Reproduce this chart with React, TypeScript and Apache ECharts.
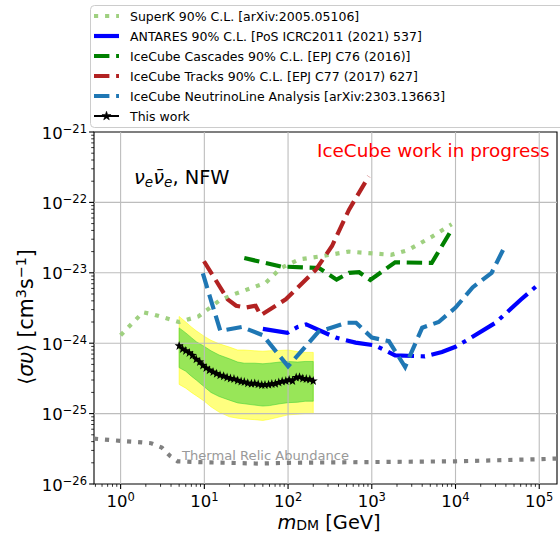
import React, { useEffect, useRef } from 'react';
import * as echarts from 'echarts';

// ---------- data ----------
const superKMass = [1, 1.85, 2.5, 5, 8.5, 15, 22, 54, 82, 136, 250, 530, 1700, 2700, 5100, 9000];
const superKSigma = [1.3e-24, 2.75e-24, 2.55e-24, 2.0e-24, 2.4e-24, 4.0e-24, 4.9e-24, 7.2e-24, 1.17e-23, 1.55e-23, 1.72e-23, 2.0e-23, 1.8e-23, 2.1e-23, 3.2e-23, 4.9e-23];

const antaresMass = [50, 98, 130, 165, 370, 640, 1100, 1900, 4300, 6900, 10000, 14000, 30000, 61000, 97000];
const antaresSigma = [1.6e-24, 1.4e-24, 1.7e-24, 1.85e-24, 1.2e-24, 1.02e-24, 9.3e-25, 6.7e-25, 6.5e-25, 7.5e-25, 8.9e-25, 1.12e-24, 1.95e-24, 4.2e-24, 6.8e-24];

const cascadesMass = [30, 82, 234, 380, 535, 705, 960, 1900, 5200, 9000];
const cascadesSigma = [1.62e-23, 1.23e-23, 1.17e-23, 8.0e-24, 1.0e-23, 1.02e-23, 7.9e-24, 1.41e-23, 1.38e-23, 4.1e-23];

const tracksMass = [9.9, 19, 24, 31, 41, 47, 94, 214, 335, 535, 920];
const tracksSigma = [1.46e-23, 4.2e-24, 3.4e-24, 3.2e-24, 3.4e-24, 2.5e-24, 4.2e-24, 1.1e-23, 2.4e-23, 7.9e-23, 2.34e-22];

const nuLineMass = [9.6, 15.5, 28, 50, 100, 230, 500, 650, 1000, 1600, 2500, 4000, 6300, 10000, 16000, 27000, 39000];
const nuLineSigma = [9.8e-24, 1.5e-24, 1.7e-24, 1.3e-24, 4.7e-25, 1.45e-24, 1.95e-24, 1.95e-24, 1.2e-24, 1.07e-24, 4.6e-25, 1.66e-24, 2.0e-24, 3.2e-24, 6.2e-24, 1.0e-23, 2.4e-23];

const thisWorkMass = [5, 5.5, 6, 6.6, 7.2, 8, 8.8, 9.6, 10.5, 11.5, 12.7, 14, 15.4, 17, 18.7, 20.5, 22.6, 25, 27.5, 30, 33, 36.5, 40, 44, 48.5, 53, 58.5, 64, 70.5, 77.5, 85, 94, 103, 113, 125, 137, 150, 165, 182, 200];
const thisWorkSigma = [9.3e-25, 8.4e-25, 7.9e-25, 7.4e-25, 6.8e-25, 6.0e-25, 5.5e-25, 4.9e-25, 4.5e-25, 4.2e-25, 3.95e-25, 3.75e-25, 3.55e-25, 3.45e-25, 3.3e-25, 3.2e-25, 3.15e-25, 3.0e-25, 2.9e-25, 2.85e-25, 2.75e-25, 2.7e-25, 2.72e-25, 2.65e-25, 2.58e-25, 2.6e-25, 2.62e-25, 2.68e-25, 2.7e-25, 2.8e-25, 2.9e-25, 2.95e-25, 3.05e-25, 2.95e-25, 3.3e-25, 3.35e-25, 3.2e-25, 3.15e-25, 3.1e-25, 2.95e-25];

const bandMass = [5, 6, 7, 8, 10, 12, 15, 20, 25, 30, 40, 50, 60, 80, 100, 130, 160, 200];
const band2Hi = [2.4e-24, 2.0e-24, 1.7e-24, 1.5e-24, 1.25e-24, 1.1e-24, 9.8e-25, 8.8e-25, 8.0e-25, 8.0e-25, 7.8e-25, 7.7e-25, 7.8e-25, 7.9e-25, 8.0e-25, 7.6e-25, 7.4e-25, 7.4e-25];
const band1Hi = [1.65e-24, 1.4e-24, 1.2e-24, 1.05e-24, 9.0e-25, 7.8e-25, 6.8e-25, 6.0e-25, 5.4e-25, 5.2e-25, 5.2e-25, 5.1e-25, 5.2e-25, 5.4e-25, 5.5e-25, 5.4e-25, 5.5e-25, 5.5e-25];
const band1Lo = [4.5e-25, 4.0e-25, 3.4e-25, 3.0e-25, 2.4e-25, 2.0e-25, 1.75e-25, 1.55e-25, 1.42e-25, 1.38e-25, 1.32e-25, 1.28e-25, 1.3e-25, 1.38e-25, 1.43e-25, 1.45e-25, 1.5e-25, 1.5e-25];
const band2Lo = [2.6e-25, 2.3e-25, 2.0e-25, 1.8e-25, 1.5e-25, 1.25e-25, 1.05e-25, 9.0e-26, 8.6e-26, 8.4e-26, 8.2e-26, 8.0e-26, 8.3e-26, 9.0e-26, 9.6e-26, 9.8e-26, 1.0e-25, 1.0e-25];

const thermalMass = [0.48, 1, 1.8, 2.3, 3.1, 3.9, 4.8, 9, 45, 100, 1000, 10000, 100000, 163000];
const thermalSigma = [4.4e-26, 4.1e-26, 3.9e-26, 3.8e-26, 3.3e-26, 2.5e-26, 2.1e-26, 2.04e-26, 1.95e-26, 2.0e-26, 2.05e-26, 2.1e-26, 2.25e-26, 2.3e-26];

const legendLabels = [
  'SuperK 90% C.L. [arXiv:2005.05106]',
  'ANTARES 90% C.L. [PoS ICRC2011 (2021) 537]',
  'IceCube Cascades 90% C.L. [EPJ C76 (2016)]',
  'IceCube Tracks 90% C.L. [EPJ C77 (2017) 627]',
  'IceCube NeutrinoLine Analysis [arXiv:2303.13663]',
  'This work',
];

const xMajorTicks = [1, 10, 100, 1000, 10000, 100000];
const yMajorTicks = [1e-26, 1e-25, 1e-24, 1e-23, 1e-22, 1e-21];
const mantissas = [2, 3, 4, 5, 6, 7, 8, 9];
const xDecades = [0.1, 1, 10, 100, 1000, 10000];
const yDecades = [1e-26, 1e-25, 1e-24, 1e-23, 1e-22];

// ---------- styling ----------
const L = (v: number) => Math.log10(v);
const X_MIN = 0.481, X_MAX = 1.63e5, Y_MIN = 1e-26, Y_MAX = 1e-21;
const FONT = 'DejaVu Sans';
const LW = 4.17;
const DOT = [4.17, 6.9];
const DASH = [15.4, 6.7];
const DASHDOT = [26.7, 6.7, 4.17, 6.7];

const C_SUPERK = '#9fd080';
const C_ANTARES = '#0000ff';
const C_CASC = '#008000';
const C_TRACKS = '#b22222';
const C_NULINE = '#1f77b4';
const C_THERMAL = '#808080';

const STAR = 'path://M0,-10L2.35,-3.24L9.51,-3.09L3.8,1.24L5.88,8.09L0,4L-5.88,8.09L-3.8,1.24L-9.51,-3.09L-2.35,-3.24Z';

const minorX = xDecades.flatMap((d) => mantissas.map((m) => m * d)).filter((v) => v > X_MIN && v < X_MAX);
const minorY = yDecades.flatMap((d) => mantissas.map((m) => m * d));

function fmtLog(v: number) {
  const r = Math.round(v);
  if (Math.abs(v - r) > 1e-6) return '';
  return `{b|10}{s|${String(r).replace('-', '\u2212')}}`;
}

const tickRich = {
  b: { fontSize: 16.5, fontFamily: FONT, color: '#000', lineHeight: 19, verticalAlign: 'bottom' },
  s: { fontSize: 11.5, fontFamily: FONT, color: '#000', lineHeight: 11, verticalAlign: 'top' },
};

function pairs(mass: number[], sigma: number[]) {
  return mass.map((m, i) => [L(m), L(sigma[i])]);
}

function lineSeries(name: string, mass: number[], sigma: number[], color: string, dash: any, width: number, z: number) {
  return {
    type: 'line',
    name,
    data: pairs(mass, sigma),
    showSymbol: false,
    symbol: 'none',
    silent: true,
    z,
    lineStyle: { color, width, type: dash, cap: 'butt', join: 'miter' },
  };
}

function bandSeries(hi: number[], lo: number[], fill: string, stroke: string, z: number) {
  return {
    type: 'custom',
    silent: true,
    z,
    data: [[L(bandMass[0]), L(hi[0])]],
    renderItem: (params: any, api: any) => {
      const top = bandMass.map((m, i) => api.coord([L(m), L(hi[i])]));
      const bot = bandMass.map((m, i) => api.coord([L(m), L(lo[i])])).reverse();
      return {
        type: 'polygon',
        shape: { points: top.concat(bot) },
        style: { fill, stroke, lineWidth: 1 },
      };
    },
  };
}

function gridSeries(values: number[], vertical: boolean) {
  return {
    type: 'custom',
    silent: true,
    z: 1.5,
    data: values.map((v) => (vertical ? [L(v), L(Y_MIN)] : [L(X_MIN), L(v)])),
    renderItem: (params: any, api: any) => {
      const cs = params.coordSys;
      const p = api.coord([api.value(0), api.value(1)]);
      if (vertical) {
        return { type: 'line', shape: { x1: p[0], y1: cs.y, x2: p[0], y2: cs.y + cs.height }, style: { stroke: '#bdbdbd', lineWidth: 1.1 } };
      }
      return { type: 'line', shape: { x1: cs.x, y1: p[1], x2: cs.x + cs.width, y2: p[1] }, style: { stroke: '#bdbdbd', lineWidth: 1.1 } };
    },
  };
}

function tickSeries(values: number[], vertical: boolean, len: number, width: number) {
  return {
    type: 'custom',
    silent: true,
    z: 6,
    clip: false,
    data: values.map((v) => (vertical ? [L(v), L(Y_MIN)] : [L(X_MIN), L(v)])),
    renderItem: (params: any, api: any) => {
      const cs = params.coordSys;
      const p = api.coord([api.value(0), api.value(1)]);
      if (vertical) {
        const yb = cs.y + cs.height;
        return { type: 'line', shape: { x1: p[0], y1: yb, x2: p[0], y2: yb + len }, style: { stroke: '#000', lineWidth: width } };
      }
      return { type: 'line', shape: { x1: cs.x - len, y1: p[1], x2: cs.x, y2: p[1] }, style: { stroke: '#000', lineWidth: width } };
    },
  };
}

function starPoints(cx: number, cy: number, r: number) {
  const pts: number[][] = [];
  for (let k = 0; k < 10; k++) {
    const a = -Math.PI / 2 + (k * Math.PI) / 5;
    const rr = k % 2 === 0 ? r : r * 0.4;
    pts.push([cx + rr * Math.cos(a), cy + rr * Math.sin(a)]);
  }
  return pts;
}

export default function App() {
  const ref = useRef<HTMLDivElement>(null);

  useEffect(() => {
    if (!ref.current) return;
    const chart = echarts.init(ref.current, undefined, { renderer: 'svg' });

    const legendStyles = [
      { color: C_SUPERK, dash: DOT, width: LW },
      { color: C_ANTARES, dash: DASHDOT, width: LW },
      { color: C_CASC, dash: DASH, width: LW },
      { color: C_TRACKS, dash: DASH, width: LW },
      { color: C_NULINE, dash: DASH, width: LW },
      { color: '#000', dash: null, width: 2 },
    ];
    const legendY = [16, 36, 56, 76, 96, 116];
    const legendEls: any[] = [
      {
        type: 'rect',
        shape: { x: 90.5, y: 5.5, width: 480, height: 122, r: 4 },
        style: { fill: 'rgba(255,255,255,0.8)', stroke: '#cccccc', lineWidth: 1 },
      },
    ];
    legendLabels.forEach((lab, i) => {
      const st = legendStyles[i];
      legendEls.push({
        type: 'line',
        shape: { x1: 94, y1: legendY[i], x2: 119, y2: legendY[i] },
        style: { stroke: st.color, lineWidth: st.width, lineDash: st.dash || undefined, lineCap: 'butt' },
      });
      legendEls.push({
        type: 'text',
        x: 130,
        y: legendY[i],
        style: { text: lab, fontSize: 12.5, fontFamily: FONT, fill: '#000', align: 'left', verticalAlign: 'middle' },
      });
    });
    legendEls.push({
      type: 'polygon',
      shape: { points: starPoints(106.5, 116, 4.8) },
      style: { fill: '#000', stroke: '#000', lineWidth: 0.5 },
    });

    const option: any = {
      animation: false,
      grid: { left: 94, right: 1, top: 132, bottom: 55, show: true, borderColor: '#000', borderWidth: 1.1, backgroundColor: 'transparent' },
      xAxis: {
        type: 'value',
        min: L(X_MIN),
        max: L(X_MAX),
        splitNumber: 5,
        axisLine: { show: false },
        axisTick: { show: false },
        minorTick: { show: false },
        splitLine: { show: false },
        axisLabel: { formatter: fmtLog, margin: 7, rich: tickRich, color: '#000', showMinLabel: true, showMaxLabel: true },
      },
      yAxis: {
        type: 'value',
        min: L(Y_MIN),
        max: L(Y_MAX),
        splitNumber: 5,
        axisLine: { show: false },
        axisTick: { show: false },
        minorTick: { show: false },
        splitLine: { show: false },
        axisLabel: { formatter: fmtLog, margin: 7, rich: tickRich, color: '#000', showMinLabel: true, showMaxLabel: true },
      },
      series: [
        bandSeries(band2Hi, band2Lo, 'rgba(255,255,0,0.5)', 'rgba(255,255,0,0.5)', 1),
        bandSeries(band1Hi, band1Lo, 'rgba(50,205,50,0.5)', 'rgba(50,205,50,0.5)', 1.1),
        gridSeries(xMajorTicks.slice(), true),
        gridSeries(yMajorTicks.slice(1, 5), false),
        lineSeries(legendLabels[0], superKMass, superKSigma, C_SUPERK, DOT, LW, 3),
        lineSeries(legendLabels[1], antaresMass, antaresSigma, C_ANTARES, DASHDOT, LW, 3),
        lineSeries(legendLabels[2], cascadesMass, cascadesSigma, C_CASC, DASH, LW, 3),
        lineSeries(legendLabels[3], tracksMass, tracksSigma, C_TRACKS, DASH, LW, 3),
        lineSeries(legendLabels[4], nuLineMass, nuLineSigma, C_NULINE, DASH, LW, 3),
        {
          type: 'line',
          name: legendLabels[5],
          data: pairs(thisWorkMass, thisWorkSigma),
          symbol: STAR,
          symbolSize: 9,
          showSymbol: true,
          showAllSymbol: true,
          silent: true,
          z: 4,
          itemStyle: { color: '#000', borderWidth: 0 },
          lineStyle: { color: '#000', width: 2 },
        },
        lineSeries('Thermal Relic Abundance', thermalMass, thermalSigma, C_THERMAL, DOT, LW, 3),
        tickSeries(xMajorTicks, true, 4.9, 1.1),
        tickSeries(yMajorTicks, false, 4.9, 1.1),
        tickSeries(minorX, true, 2.8, 0.8),
        tickSeries(minorY, false, 2.8, 0.8),
      ],
      graphic: [
        ...legendEls.map((e) => ({ ...e, z: 100 })),
        {
          type: 'text',
          x: 317,
          y: 150,
          z: 50,
          style: { text: 'IceCube work in progress', fontSize: 18.4, fontFamily: FONT, fill: '#ff0000', align: 'left', verticalAlign: 'middle' },
        },
        {
          type: 'text',
          x: 134,
          y: 177,
          z: 50,
          style: {
            text: '{i|\u03BD}{sb|e}{i|\u03BD\u0304}{sb|e}{n|, NFW}',
            align: 'left',
            verticalAlign: 'middle',
            rich: {
              i: { fontSize: 19.4, fontFamily: FONT, fontStyle: 'italic', fill: '#000', lineHeight: 24, verticalAlign: 'middle' },
              sb: { fontSize: 13.6, fontFamily: FONT, fontStyle: 'italic', fill: '#000', lineHeight: 16, verticalAlign: 'bottom' },
              n: { fontSize: 19.4, fontFamily: FONT, fill: '#000', lineHeight: 24, verticalAlign: 'middle' },
            },
          },
        },
        {
          type: 'text',
          x: 182,
          y: 455.5,
          z: 50,
          style: { text: 'Thermal Relic Abundance', fontSize: 13.1, fontFamily: FONT, fill: '#999999', align: 'left', verticalAlign: 'middle' },
        },
        {
          type: 'text',
          x: 329,
          y: 522,
          z: 50,
          style: {
            text: '{i|m}{sb|DM}{n| [GeV]}',
            align: 'center',
            verticalAlign: 'middle',
            rich: {
              i: { fontSize: 19.4, fontFamily: FONT, fontStyle: 'italic', fill: '#000', lineHeight: 20, verticalAlign: 'middle' },
              sb: { fontSize: 14, fontFamily: FONT, fill: '#000', lineHeight: 15, verticalAlign: 'bottom' },
              n: { fontSize: 19.4, fontFamily: FONT, fill: '#000', lineHeight: 20, verticalAlign: 'middle' },
            },
          },
        },
        {
          type: 'text',
          x: 26,
          y: 317,
          rotation: Math.PI / 2,
          z: 50,
          style: {
            text: '{n|\u27E8}{i|\u03C3\u03C5}{n|\u27E9 [cm}{sp|3}{n|s}{sp|\u22121}{n|]}',
            align: 'center',
            verticalAlign: 'middle',
            rich: {
              i: { fontSize: 20.5, fontFamily: FONT, fontStyle: 'italic', fill: '#000', lineHeight: 24, verticalAlign: 'middle' },
              sp: { fontSize: 14.4, fontFamily: FONT, fill: '#000', lineHeight: 14, verticalAlign: 'top' },
              n: { fontSize: 20.5, fontFamily: FONT, fill: '#000', lineHeight: 24, verticalAlign: 'middle' },
            },
          },
        },
      ],
    };

    chart.setOption(option);
    return () => chart.dispose();
  }, []);

  return <div ref={ref} style={{ position: 'absolute', left: 0, top: 0, width: 560, height: 539 }} />;
}
